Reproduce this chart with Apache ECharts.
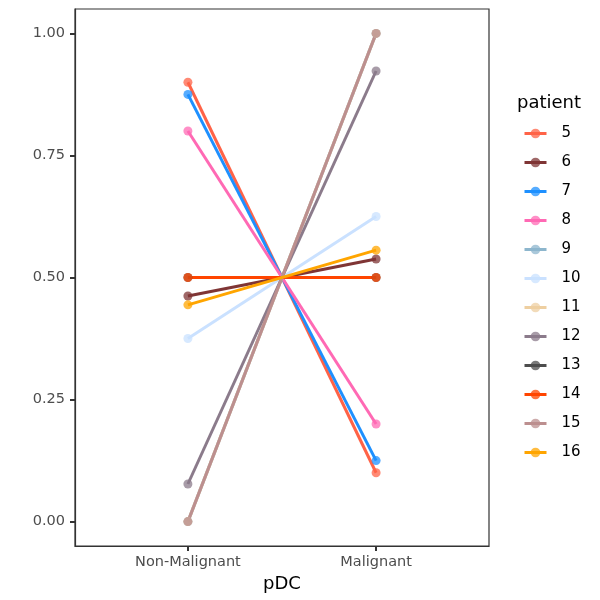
<!DOCTYPE html>
<html>
<head>
<meta charset="utf-8">
<script src="https://cdn.jsdelivr.net/npm/echarts@6/dist/echarts.min.js"></script>
<style>
  html, body { margin: 0; padding: 0; background: #fff; }
  #chart { width: 600px; height: 600px; }
</style>
</head>
<body>
<div id="chart"></div>
<script>
// categories on the x axis (positions 1 and 2)
var categories = ['Non-Malignant', 'Malignant'];
var patients = ['5', '6', '7', '8', '9', '10', '11', '12', '13', '14', '15', '16'];
// proportion in Non-Malignant / Malignant for each patient
var nonMalignant = [0.900, 0.462, 0.875, 0.800, 0.000, 0.375, 0.000, 0.077, 0.500, 0.500, 0.000, 0.444];
var malignant    = [0.100, 0.538, 0.125, 0.200, 1.000, 0.625, 1.000, 0.923, 0.500, 0.500, 1.000, 0.556];
var colors = ['#FF6347', '#7F3535', '#1E90FF', '#FF69B4', '#8DB6CD', '#CAE1FF',
              '#EECFA1', '#8B7B8B', '#4D4D4D', '#FF4500', '#BC8F8F', '#FFA500'];
var yTicks = [0, 0.25, 0.5, 0.75, 1];
var xTicks = [1, 2];

var chart = echarts.init(document.getElementById('chart'));

var series = patients.map(function (p, i) {
  return {
    name: p,
    type: 'line',
    data: [[1, nonMalignant[i]], [2, malignant[i]]],
    symbol: 'circle',
    symbolSize: 9,
    showSymbol: true,
    lineStyle: { width: 3, color: colors[i] },
    itemStyle: { color: colors[i], opacity: 0.75 },
    emphasis: { disabled: true },
    animation: false
  };
});

chart.setOption({
  animation: false,
  grid: {
    left: 75, right: 111, top: 9, bottom: 54,
    outerBoundsMode: 'none',
    show: true, borderColor: '#333', borderWidth: 1.2
  },
  xAxis: {
    type: 'value',
    min: 0.4, max: 2.6,
    name: 'pDC',
    nameLocation: 'middle',
    nameGap: 24,
    nameTextStyle: { fontSize: 18, color: '#000', fontFamily: 'DejaVu Sans' },
    axisLine: { show: true, onZero: false, lineStyle: { color: '#333', width: 1.2 } },
    axisTick: { show: true, inside: false, length: 5, customValues: xTicks,
      lineStyle: { color: '#333', width: 2 } },
    axisLabel: { fontSize: 14.5, color: '#4D4D4D', fontFamily: 'DejaVu Sans', margin: 9,
      customValues: xTicks,
      formatter: function (v) { return categories[Math.round(v) - 1] || ''; } },
    splitLine: { show: false }
  },
  yAxis: {
    type: 'value',
    min: -0.05, max: 1.05,
    axisLine: { show: true, onZero: false, lineStyle: { color: '#333', width: 1.2 } },
    axisTick: { show: true, inside: false, length: 5, customValues: yTicks,
      lineStyle: { color: '#333', width: 2 } },
    axisLabel: { fontSize: 14.5, color: '#4D4D4D', fontFamily: 'DejaVu Sans', margin: 10,
      customValues: yTicks,
      formatter: function (v) { return v.toFixed(2); } },
    splitLine: { show: false }
  },
  legend: {
    orient: 'vertical',
    left: 518, top: 121,
    itemWidth: 22, itemHeight: 12,
    itemGap: 14,
    data: patients,
    lineStyle: { width: 3 },
    textStyle: { fontSize: 15, color: '#000', fontFamily: 'DejaVu Sans', padding: [0, 0, 0, 10] }
  },
  graphic: [{
    type: 'text', left: 517, top: 94,
    style: { text: 'patient', fontSize: 18, fill: '#000', fontFamily: 'DejaVu Sans' }
  }],
  series: series
});
</script>
</body>
</html>
